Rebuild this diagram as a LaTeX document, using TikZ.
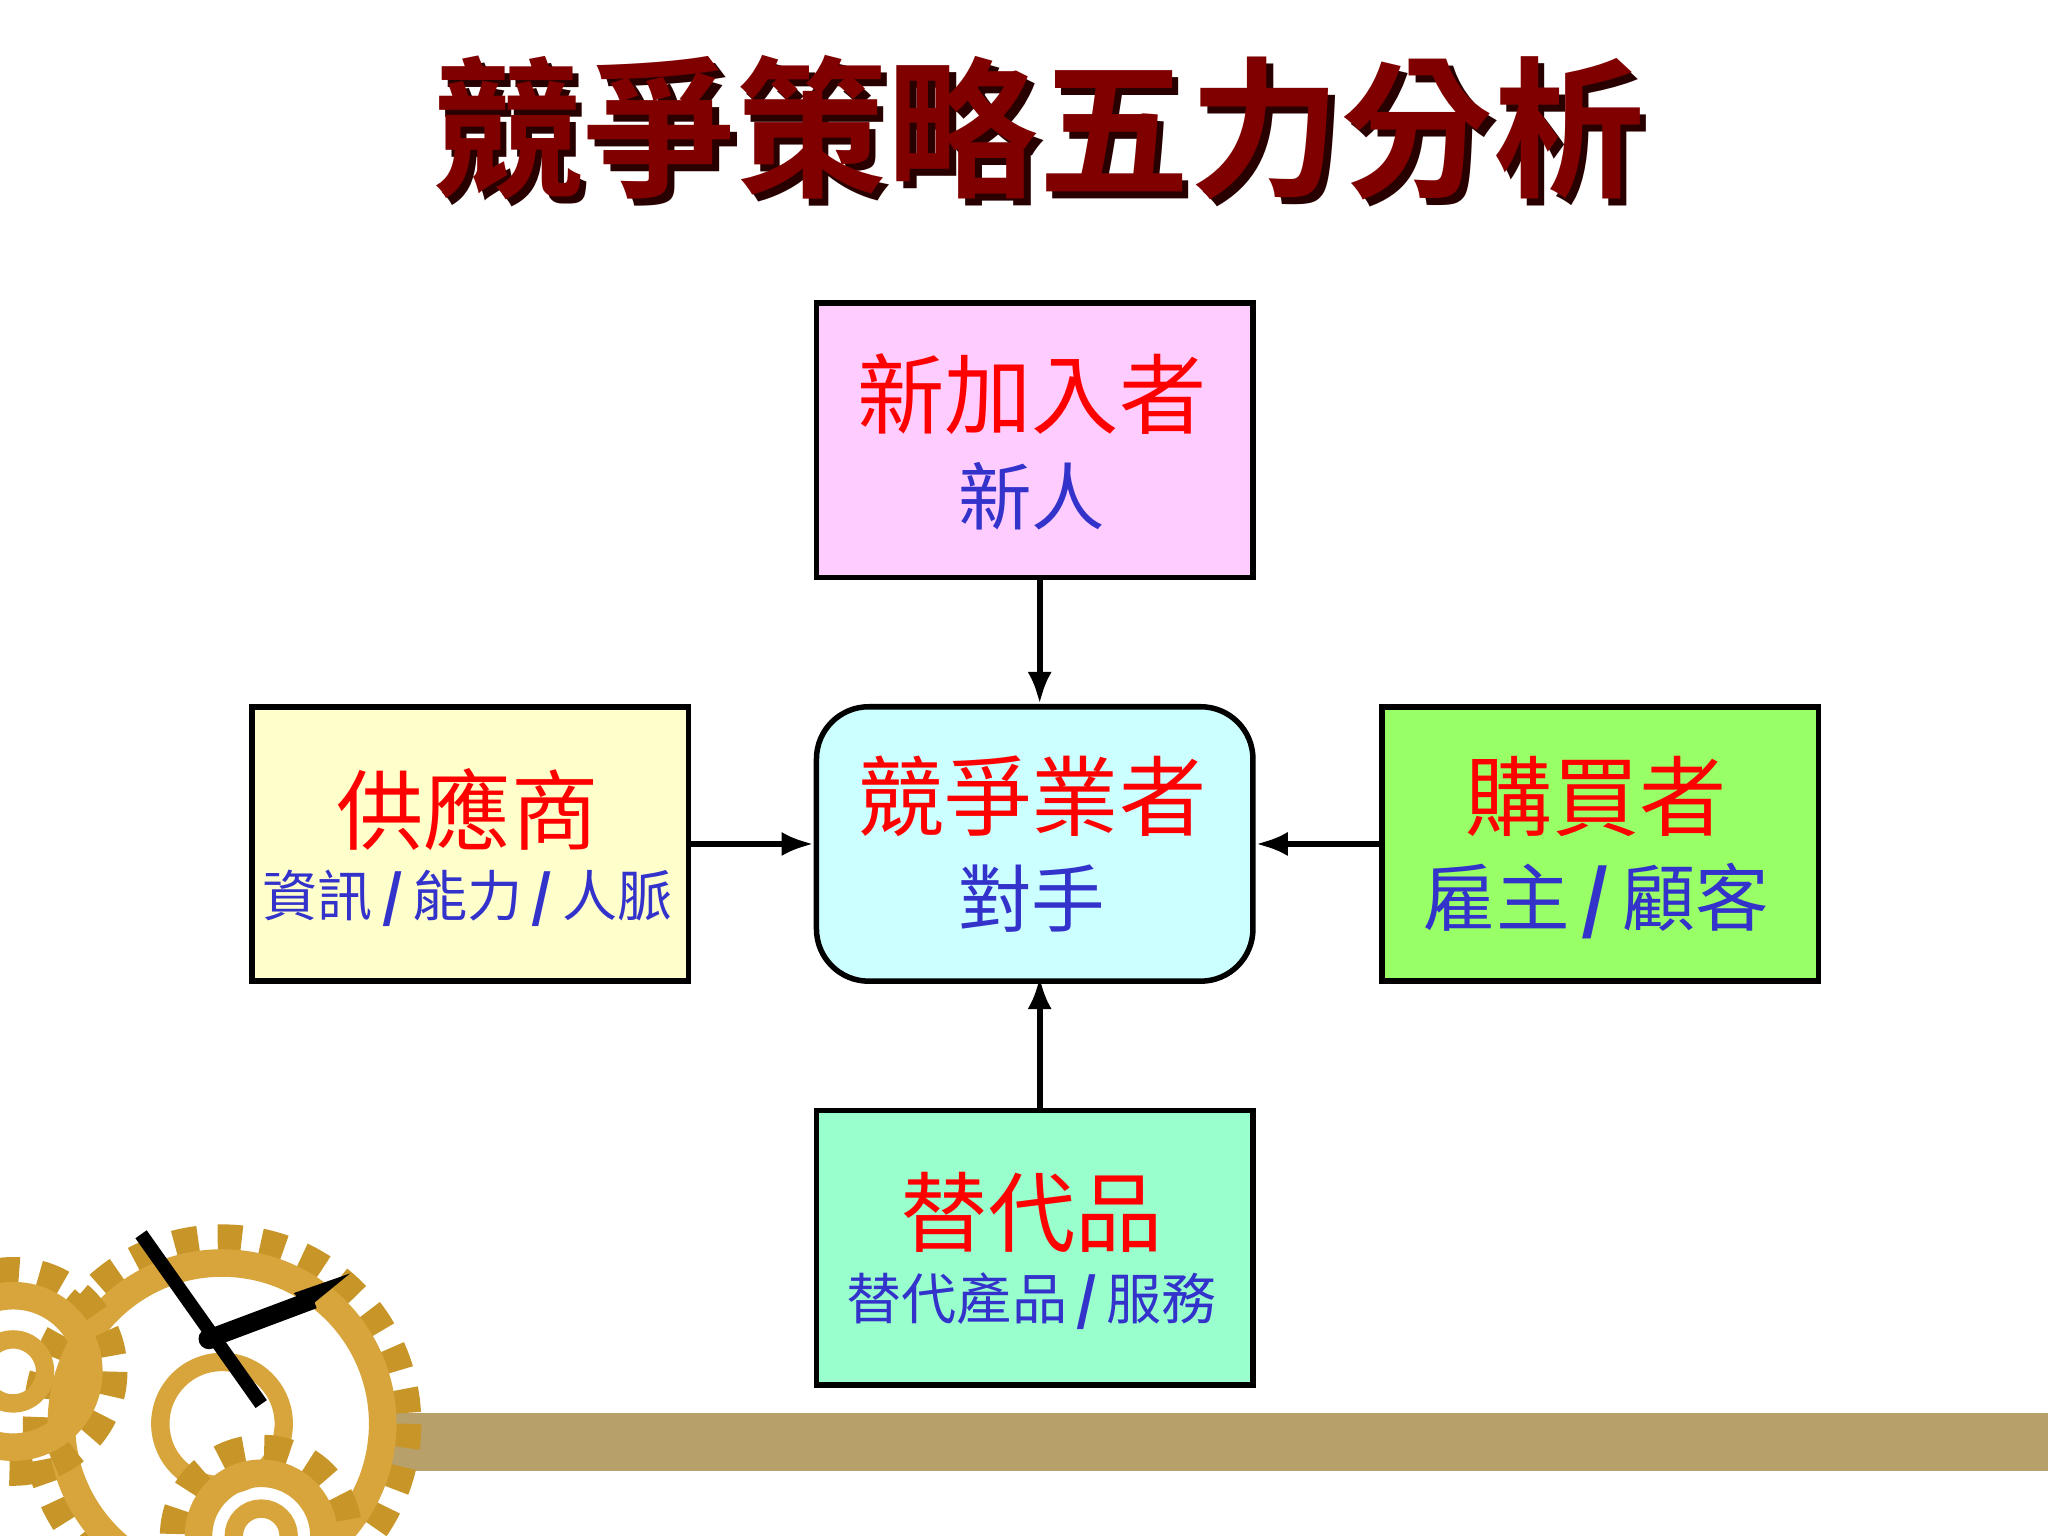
\documentclass[tikz,border=0pt]{standalone}
\usepackage{fontspec}
\usetikzlibrary{arrows.meta}
\newfontfamily\cjk{Noto Sans CJK TC}
\newfontfamily\cjkb{Noto Sans CJK TC Bold}
\newcommand{\myslash}{\,\textit{\textbf{/}}\,}
\begin{document}
\begin{tikzpicture}[x=0.01cm,y=-0.01cm,
  box/.style={draw=black,line width=1.2pt,minimum width=3.34cm,minimum height=2.1cm,anchor=north west,inner sep=0pt},
  red/.style={text=red,font=\cjk\fontsize{19}{22}\selectfont},
  blu/.style={text={rgb,255:red,51;green,51;blue,204}},
  arr/.style={-{Latex[length=7pt]},line width=1.3pt}]
\useasboundingbox (0,0) rectangle (1568,1176);
\fill[white] (0,0) rectangle (1568,1176);
\fill[color={rgb,255:red,184;green,160;blue,106}] (290,1082) rectangle (1568,1126);
\foreach \cx/\cy/\r in {170/1090/135, 10/1050/70, 200/1176/60}{
  \draw[color={rgb,255:red,200;green,150;blue,40},line width=10pt,dash pattern=on 5pt off 4pt] (\cx,\cy) circle (\r);
  \draw[color={rgb,255:red,215;green,165;blue,60},line width=6pt] (\cx,\cy) circle (\r-12);
  \draw[color={rgb,255:red,215;green,165;blue,60},line width=4pt] (\cx,\cy) circle (\r*0.35);
}
\draw[line width=3pt] (108,945) -- (200,1075);
\draw[line width=4pt] (160,1025) -- (240,995);
\fill (268,975) -- (225,990) -- (235,1002) -- cycle;
\fill (160,1025) circle (8);
\node[text={rgb,255:red,40;green,0;blue,0}] at (800,103) {\cjkb\fontsize{33}{38}\selectfont 競爭策略五力分析};
\node[text={rgb,255:red,128;green,0;blue,0}] at (795,98) {\cjkb\fontsize{33}{38}\selectfont 競爭策略五力分析};
\node[box,fill={rgb,255:red,255;green,204;blue,255}] (top) at (623,230) {};
\node[box,fill={rgb,255:red,204;green,255;blue,255},rounded corners=0.4cm] (ctr) at (623,539) {};
\node[box,fill={rgb,255:red,255;green,255;blue,204}] (lft) at (191,539) {};
\node[box,fill={rgb,255:red,153;green,255;blue,102}] (rgt) at (1056,539) {};
\node[box,fill={rgb,255:red,153;green,255;blue,204}] (bot) at (623,848) {};
\node[red] at (790,302) {新加入者};
\node[blu,font=\cjk\fontsize{16}{18}\selectfont] at (790,380) {新人};
\node[red] at (790,610) {競爭業者};
\node[blu,font=\cjk\fontsize{16}{18}\selectfont] at (790,688) {對手};
\node[red] at (358,620) {供應商};
\node[blu,font=\cjk\fontsize{12}{14}\selectfont] at (358,688) {資訊\myslash 能力\myslash 人脈};
\node[red] at (1222,610) {購買者};
\node[blu,font=\cjk\fontsize{16}{18}\selectfont] at (1222,690) {雇主\myslash 顧客};
\node[red] at (790,928) {替代品};
\node[blu,font=\cjk\fontsize{12}{14}\selectfont] at (790,996) {替代產品\myslash 服務};
\draw[arr] (796,440) -- (796,539);
\draw[arr] (796,848) -- (796,748);
\draw[arr] (lft.east) -- (ctr.west);
\draw[arr] (rgt.west) -- (ctr.east);
\end{tikzpicture}
\end{document}
